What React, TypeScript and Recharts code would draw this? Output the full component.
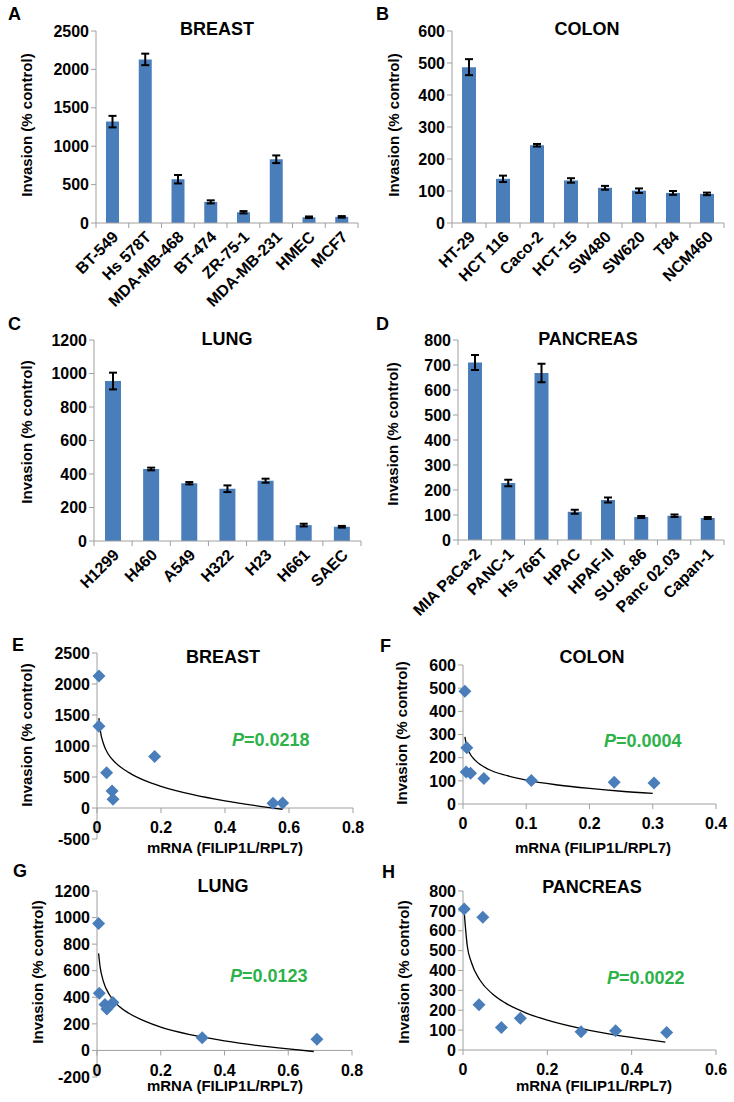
import React from "react";
import {
  Bar,
  BarChart,
  ComposedChart,
  ErrorBar,
  Line,
  ReferenceLine,
  Scatter,
  XAxis,
  YAxis,
} from "recharts";

const FONT = '"Liberation Sans", Arial, sans-serif';
const BLUE = "#4a7ebb";
const AXIS = "#a0a0a0";
const GREEN = "#2db24a";

// breast
const breastLines = ["BT-549", "Hs 578T", "MDA-MB-468", "BT-474", "ZR-75-1", "MDA-MB-231", "HMEC", "MCF7"];
const breastInvasion = [1320, 2130, 570, 275, 140, 830, 75, 80];
const breastErr = [75, 75, 55, 20, 15, 50, 10, 10];
const breastMrna = [0.006, 0.006, 0.03, 0.047, 0.05, 0.18, 0.55, 0.58];
const breastFitX = [0.006, 0.01, 0.02, 0.035, 0.06, 0.1, 0.15, 0.2, 0.3, 0.4, 0.5, 0.58];
const breastFitY = [1450, 1260, 1040, 870, 720, 570, 440, 350, 215, 115, 35, -20];

// colon
const colonLines = ["HT-29", "HCT 116", "Caco-2", "HCT-15", "SW480", "SW620", "T84", "NCM460"];
const colonInvasion = [487, 138, 243, 133, 110, 101, 94, 91];
const colonErr = [25, 10, 4, 7, 6, 7, 6, 4];
const colonMrna = [0.003, 0.005, 0.006, 0.012, 0.033, 0.108, 0.239, 0.302];
const colonFitX = [0.003, 0.006, 0.01, 0.02, 0.04, 0.07, 0.1, 0.15, 0.2, 0.25, 0.3];
const colonFitY = [290, 250, 222, 187, 150, 122, 103, 82, 67, 55, 46];

// lung
const lungLines = ["H1299", "H460", "A549", "H322", "H23", "H661", "SAEC"];
const lungInvasion = [955, 430, 345, 312, 360, 95, 85];
const lungErr = [50, 8, 7, 20, 12, 8, 5];
const lungMrna = [0.005, 0.007, 0.025, 0.031, 0.05, 0.33, 0.69];
const lungFitX = [0.005, 0.01, 0.02, 0.04, 0.07, 0.1, 0.15, 0.2, 0.3, 0.4, 0.5, 0.6, 0.68];
const lungFitY = [730, 625, 520, 415, 330, 280, 220, 175, 115, 72, 38, 11, -8];

// pancreas
const pancLines = ["MIA PaCa-2", "PANC-1", "Hs 766T", "HPAC", "HPAF-II", "SU.86.86", "Panc 02.03", "Capan-1"];
const pancInvasion = [710, 228, 668, 113, 160, 92, 97, 88];
const pancErr = [30, 13, 37, 8, 10, 4, 5, 4];
const pancMrna = [0.003, 0.038, 0.047, 0.091, 0.136, 0.28, 0.362, 0.483];
const pancFitX = [0.003, 0.01, 0.02, 0.04, 0.07, 0.1, 0.15, 0.2, 0.3, 0.4, 0.48];
const pancFitY = [690, 526, 440, 352, 282, 237, 186, 150, 99, 63, 40];

const tickStyle = { fill: "#000", fontSize: 16, fontWeight: 700, fontFamily: FONT };

type Rect = { x1: number; y1: number; x2: number; y2: number };

// category label at 45 degrees, plus a tick mark on the band's left edge (and right edge for the last one)
function AngledTick(props: any) {
  const { x, y, payload, band, count } = props;
  const last = payload.index === count - 1;
  return (
    <g>
      <line x1={x - band / 2} x2={x - band / 2} y1={y} y2={y + 5} stroke={AXIS} />
      {last && <line x1={x + band / 2} x2={x + band / 2} y1={y} y2={y + 5} stroke={AXIS} />}
      <g transform={`translate(${x + 3},${y + 11})`}>
        <text
          textAnchor="end"
          dy="0.35em"
          transform="rotate(-45)"
          fontSize={16}
          fontWeight={700}
          fontFamily={FONT}
          fill="#000"
        >
          {payload.value}
        </text>
      </g>
    </g>
  );
}

function XTick(props: any) {
  const { x, y, payload, shift } = props;
  const y0 = y - shift;
  return (
    <g>
      <line x1={x} x2={x} y1={y0} y2={y0 + 5} stroke={AXIS} />
      <text x={x} y={y0 + 14} dy="0.71em" textAnchor="middle" {...tickStyle}>
        {payload.value}
      </text>
    </g>
  );
}

function Diamond(props: any) {
  const { cx, cy } = props;
  const r = 6.5;
  return <path d={`M${cx},${cy - r}L${cx + r},${cy}L${cx},${cy + r}L${cx - r},${cy}Z`} fill={BLUE} />;
}

function BarPanel(p: {
  left: number;
  top: number;
  plot: Rect;
  names: string[];
  values: number[];
  errs: number[];
  yTicks: number[];
  barSize: number;
}) {
  const data = p.names.map((name, i) => ({ name, v: p.values[i], err: p.errs[i] }));
  const xH = 100;
  const band = (p.plot.x2 - p.plot.x1) / p.names.length;
  return (
    <div style={{ position: "absolute", left: p.left, top: p.top }}>
      <BarChart
        width={367}
        height={p.plot.y2 - p.top + xH}
        data={data}
        margin={{ top: p.plot.y1 - p.top, right: p.left + 367 - p.plot.x2, bottom: 0, left: 0 }}
      >
        <XAxis
          dataKey="name"
          interval={0}
          tickLine={false}
          tickSize={0}
          tickMargin={0}
          stroke={AXIS}
          height={xH}
          tick={<AngledTick band={band} count={p.names.length} />}
        />
        <YAxis
          width={p.plot.x1 - p.left}
          domain={[p.yTicks[0], p.yTicks[p.yTicks.length - 1]]}
          ticks={p.yTicks}
          interval={0}
          stroke={AXIS}
          tickSize={5}
          tick={tickStyle}
        />
        <Bar dataKey="v" fill={BLUE} barSize={p.barSize} isAnimationActive={false}>
          <ErrorBar dataKey="err" width={4} stroke="#000" strokeWidth={2} />
        </Bar>
      </BarChart>
    </div>
  );
}

function ScatterPanel(p: {
  left: number;
  top: number;
  plot: Rect;
  xs: number[];
  ys: number[];
  fitX: number[];
  fitY: number[];
  xTicks: number[];
  yTicks: number[];
}) {
  const points = p.xs.map((x, i) => ({ x, y: p.ys[i] }));
  const fit = p.fitX.map((x, i) => ({ x, y: p.fitY[i] }));
  const yMin = p.yTicks[0];
  const yMax = p.yTicks[p.yTicks.length - 1];
  // when the y range goes below zero the x axis crosses at y = 0
  const shift = yMin < 0 ? ((0 - yMin) / (yMax - yMin)) * (p.plot.y2 - p.plot.y1) : 0;
  const xH = 30;
  return (
    <div style={{ position: "absolute", left: p.left, top: p.top }}>
      <ComposedChart
        width={367}
        height={p.plot.y2 - p.top + xH}
        margin={{ top: p.plot.y1 - p.top, right: p.left + 367 - p.plot.x2, bottom: 0, left: 0 }}
      >
        <XAxis
          type="number"
          dataKey="x"
          domain={[p.xTicks[0], p.xTicks[p.xTicks.length - 1]]}
          ticks={p.xTicks}
          interval={0}
          axisLine={yMin >= 0 ? { stroke: AXIS } : false}
          tickLine={false}
          tickSize={0}
          tickMargin={0}
          height={xH}
          tick={<XTick shift={shift} />}
        />
        <YAxis
          type="number"
          dataKey="y"
          width={p.plot.x1 - p.left}
          domain={[yMin, yMax]}
          ticks={p.yTicks}
          interval={0}
          stroke={AXIS}
          tickSize={5}
          tick={tickStyle}
        />
        {yMin < 0 && <ReferenceLine y={0} stroke={AXIS} />}
        <Line
          data={fit}
          dataKey="y"
          type="monotone"
          dot={false}
          stroke="#000"
          strokeWidth={1.3}
          isAnimationActive={false}
        />
        <Scatter data={points} dataKey="y" shape={<Diamond />} isAnimationActive={false} />
      </ComposedChart>
    </div>
  );
}

const labels = [
  { letter: "A", lx: 8, ly: 20, title: "BREAST", tx: 217, ty: 35, yx: 27, yy: 125 },
  { letter: "B", lx: 376, ly: 20, title: "COLON", tx: 587, ty: 35, yx: 394, yy: 125 },
  { letter: "C", lx: 8, ly: 330, title: "LUNG", tx: 227, ty: 345, yx: 27, yy: 432 },
  { letter: "D", lx: 376, ly: 330, title: "PANCREAS", tx: 588, ty: 345, yx: 393, yy: 434 },
  { letter: "E", lx: 12, ly: 651, title: "BREAST", tx: 223, ty: 663, yx: 27, yy: 735 },
  { letter: "F", lx: 380, ly: 652, title: "COLON", tx: 592, ty: 663, yx: 402, yy: 733 },
  { letter: "G", lx: 13, ly: 877, title: "LUNG", tx: 223, ty: 892, yx: 38, yy: 972 },
  { letter: "H", lx: 382, ly: 878, title: "PANCREAS", tx: 592, ty: 893, yx: 404, yy: 972 },
];

const pValues = [
  { text: "=0.0218", x: 232, y: 746 },
  { text: "=0.0004", x: 604, y: 747 },
  { text: "=0.0123", x: 230, y: 982 },
  { text: "=0.0022", x: 607, y: 984 },
];

const xLabels = [
  { x: 225, y: 853 },
  { x: 593, y: 853 },
  { x: 225, y: 1091 },
  { x: 594, y: 1091 },
];

function Overlay() {
  return (
    <svg
      width={734}
      height={1102}
      style={{ position: "absolute", left: 0, top: 0, pointerEvents: "none" }}
      fontFamily={FONT}
      fontWeight={700}
    >
      {labels.map((l) => (
        <g key={l.letter}>
          <text x={l.lx} y={l.ly} fontSize={18}>
            {l.letter}
          </text>
          <text x={l.tx} y={l.ty} fontSize={18} textAnchor="middle">
            {l.title}
          </text>
          <text
            x={l.yx}
            y={l.yy}
            fontSize={15}
            textAnchor="middle"
            dy="0.35em"
            transform={`rotate(-90 ${l.yx} ${l.yy})`}
          >
            Invasion (% control)
          </text>
        </g>
      ))}
      {pValues.map((p) => (
        <text key={p.text} x={p.x} y={p.y} fontSize={18} fill={GREEN}>
          <tspan fontStyle="italic">P</tspan>
          {p.text}
        </text>
      ))}
      {xLabels.map((l, i) => (
        <text key={i} x={l.x} y={l.y} fontSize={15} textAnchor="middle">
          mRNA (FILIP1L/RPL7)
        </text>
      ))}
    </svg>
  );
}

export default function App() {
  return (
    <div
      style={{
        position: "absolute",
        left: 0,
        top: 0,
        width: 734,
        height: 1102,
        background: "#fff",
        fontFamily: FONT,
      }}
    >
      <BarPanel left={0} top={20} plot={{ x1: 96, y1: 31, x2: 358, y2: 223 }} names={breastLines}
        values={breastInvasion} errs={breastErr} yTicks={[0, 500, 1000, 1500, 2000, 2500]} barSize={13} />
      <BarPanel left={367} top={20} plot={{ x1: 452, y1: 31, x2: 724, y2: 223 }} names={colonLines}
        values={colonInvasion} errs={colonErr} yTicks={[0, 100, 200, 300, 400, 500, 600]} barSize={14} />
      <BarPanel left={0} top={330} plot={{ x1: 94, y1: 340, x2: 361, y2: 541 }} names={lungLines}
        values={lungInvasion} errs={lungErr} yTicks={[0, 200, 400, 600, 800, 1000, 1200]} barSize={16} />
      <BarPanel left={367} top={330} plot={{ x1: 458, y1: 340, x2: 724, y2: 540 }} names={pancLines}
        values={pancInvasion} errs={pancErr} yTicks={[0, 100, 200, 300, 400, 500, 600, 700, 800]} barSize={14} />

      <ScatterPanel left={0} top={640} plot={{ x1: 97, y1: 653, x2: 353, y2: 839 }} xs={breastMrna}
        ys={breastInvasion} fitX={breastFitX} fitY={breastFitY} xTicks={[0, 0.2, 0.4, 0.6, 0.8]}
        yTicks={[-500, 0, 500, 1000, 1500, 2000, 2500]} />
      <ScatterPanel left={367} top={650} plot={{ x1: 463, y1: 665, x2: 716, y2: 804 }} xs={colonMrna}
        ys={colonInvasion} fitX={colonFitX} fitY={colonFitY} xTicks={[0, 0.1, 0.2, 0.3, 0.4]}
        yTicks={[0, 100, 200, 300, 400, 500, 600]} />
      <ScatterPanel left={0} top={880} plot={{ x1: 97, y1: 891, x2: 352, y2: 1077 }} xs={lungMrna}
        ys={lungInvasion} fitX={lungFitX} fitY={lungFitY} xTicks={[0, 0.2, 0.4, 0.6, 0.8]}
        yTicks={[-200, 0, 200, 400, 600, 800, 1000, 1200]} />
      <ScatterPanel left={367} top={880} plot={{ x1: 463, y1: 891, x2: 716, y2: 1050 }} xs={pancMrna}
        ys={pancInvasion} fitX={pancFitX} fitY={pancFitY} xTicks={[0, 0.2, 0.4, 0.6]}
        yTicks={[0, 100, 200, 300, 400, 500, 600, 700, 800]} />

      <Overlay />
    </div>
  );
}
